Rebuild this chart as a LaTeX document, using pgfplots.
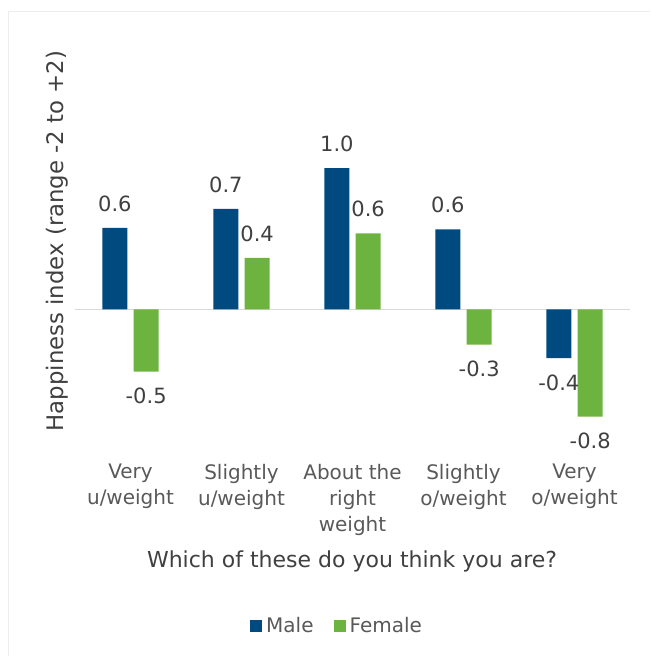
\documentclass[border=0pt]{standalone}
\usepackage{pgfplots}
\pgfplotsset{compat=1.18}
\usepackage{fontspec}
\setmainfont{DejaVu Sans}
\definecolor{male}{HTML}{004A7F}
\definecolor{female}{HTML}{6DB33F}
\definecolor{txt}{HTML}{404040}
\definecolor{tickc}{HTML}{595959}
\begin{document}
\begin{tikzpicture}
\useasboundingbox (0,0) rectangle (325pt,328pt);
\draw[color=black!7, line width=0.5pt] (4pt,0) -- (4pt,322pt) -- (325pt,322pt);
\begin{axis}[
 at={(37.5pt,105.5pt)}, anchor=south west,
 scale only axis, width=277.5pt, height=203.5pt,
 xmin=-0.5, xmax=4.5, ymin=-1, ymax=2,
 ybar=3.15pt, bar width=12.5pt,
 axis line style={draw=none},
 ytick=\empty,
 xtick={0,1,2,3,4},
 xticklabels={{Very\\u/weight},{Slightly\\u/weight},{About the\\right\\weight},{Slightly\\o/weight},{Very\\o/weight}},
 xticklabel style={align=center, text=tickc, font=\fontsize{10}{13}\selectfont, yshift=-6pt},
 major tick length=0,
 extra y ticks={0}, extra y tick labels={},
 extra y tick style={grid=major, major grid style={draw=black!15, line width=0.75pt}},
 nodes near coords, point meta=y,
 nodes near coords style={font=\fontsize{10.5}{12}\selectfont, text=txt, inner ysep=8pt, /pgf/number format/.cd, fixed, precision=1, zerofill, assume math mode=true},
 legend style={at={(0.474,-0.445)}, anchor=center, draw=none, legend columns=2, font=\fontsize{10}{12}\selectfont, text=tickc, /tikz/every even column/.append style={column sep=8pt}},
 legend image code/.code={\fill[#1] (0pt,-3pt) rectangle (6pt,3pt);},
]
\addplot[fill=male, draw=none] coordinates {(0,0.60) (1,0.74) (2,1.04) (3,0.59) (4,-0.36)};
\addplot[fill=female, draw=none] coordinates {(0,-0.46) (1,0.38) (2,0.56) (3,-0.26) (4,-0.79)};
\legend{Male,Female}
\end{axis}
\node[text=txt, rotate=90, font=\fontsize{11.4}{13}\selectfont] at (28.5pt,207.5pt) {Happiness index (range -2 to +2)};
\node[text=txt, font=\fontsize{11}{13}\selectfont] at (176pt,47.5pt) {Which of these do you think you are?};
\end{tikzpicture}
\end{document}
